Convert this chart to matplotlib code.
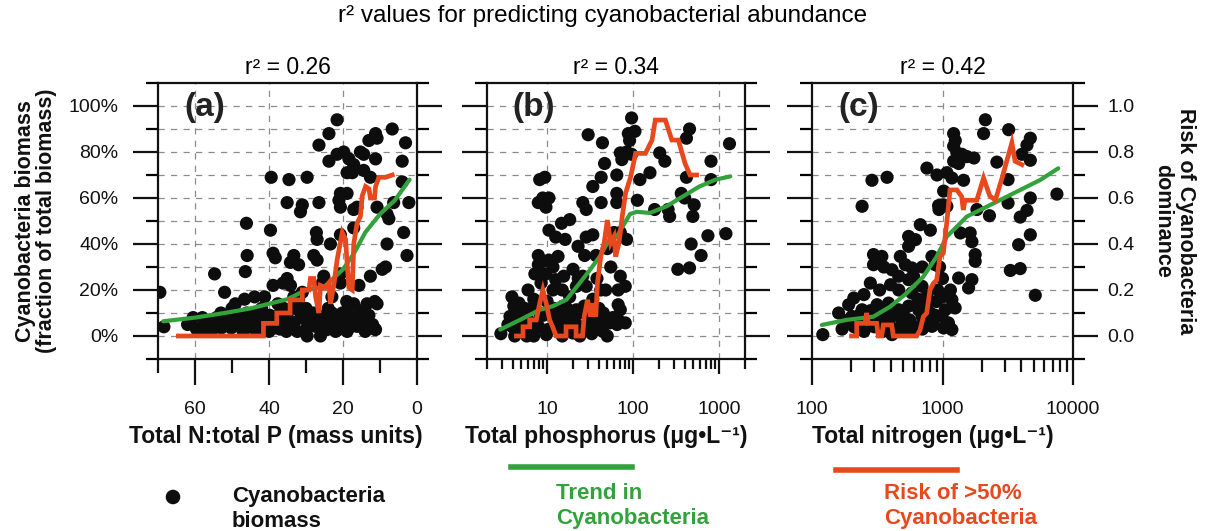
import numpy as np
import matplotlib
matplotlib.use('Agg')
import matplotlib.pyplot as plt
from matplotlib.ticker import FixedLocator, FixedFormatter, NullFormatter

# ---------------- data ----------------
title = "r\u00b2 values for predicting cyanobacterial abundance"
r2_labels = ["r\u00b2 = 0.26", "r\u00b2 = 0.34", "r\u00b2 = 0.42"]
panel_tags = ["(a)", "(b)", "(c)"]
xlabels = ["Total N:total P (mass units)",
           "Total phosphorus (\u03bcg\u2022L\u207b\u00b9)",
           "Total nitrogen (\u03bcg\u2022L\u207b\u00b9)"]

# panel (a): N:P ratio vs cyanobacteria fraction
a_pts = [
    (69.5,0.19),(68.4,0.04),(54.7,0.27),(46.1,0.49),(45.9,0.35),(46.4,0.28),(39.4,0.69),(39.6,0.46),
    (38.9,0.36),(38.3,0.34),(52,0.19),(49.1,0.14),(46.6,0.16),(43.9,0.17),(41.2,0.17),(38.9,0.22),
    (36.2,0.23),(37.6,0.14),(60.5,0.08),(58.3,0.035),(56.5,0.06),(54.2,0.08),(52.9,0.035),(51.5,0.06),
    (50.2,0.035),(48.4,0.09),(47.5,0.04),(45.7,0.08),(44.3,0.035),(43,0.07),(41.2,0.04),(39.8,0.09),
    (38.5,0.035),(36.7,0.06),(35.3,0.02),(55.6,0.02),(59.6,0.03),(57,0.05),(53,0.10),(49,0.07),
    (44,0.10),(42,0.12),(40,0.02),(37,0.10),(50,0.12),(47,0.02),
    (21.6,0.94),(23.8,0.88),(26.5,0.83),(23.8,0.76),(21.6,0.79),(19.8,0.80),(18.4,0.77),(17.1,0.745),
    (15.3,0.80),(14.4,0.79),(11.2,0.88),(10.8,0.86),(13,0.85),(6.7,0.90),(3.1,0.84),(11.2,0.77),
    (4,0.76),(18.9,0.71),(17.5,0.71),(14.4,0.72),(12.6,0.69),(34.6,0.68),(29.7,0.69),(4,0.67),
    (20.7,0.62),(18.9,0.62),(21.1,0.59),(20.7,0.56),(26.5,0.58),(31,0.57),(31.5,0.54),(35.1,0.58),
    (17.1,0.55),(16.2,0.56),(10.8,0.56),(6.3,0.58),(2.2,0.58),(8.1,0.53),(7.6,0.51),(27.2,0.45),
    (27,0.42),(23.4,0.40),(20.7,0.44),(17.1,0.47),(8.1,0.40),(3.6,0.45),(33.3,0.35),(34.2,0.32),
    (32,0.31),(27.9,0.35),(27,0.33),(2.7,0.35),(8.5,0.30),(9.4,0.29),(12.6,0.26),(25.2,0.26),
    (25.6,0.23),(20.7,0.27),(20.7,0.23),(15.7,0.22),(35.1,0.25),(34.2,0.22),(31,0.19),(32,0.16),
    (33.3,0.17),(13.5,0.14),(10.8,0.14),(17.1,0.14),(18.9,0.11),(11.4,0.15),(11.4,0.03),
    (35.1,0.085),(33.3,0.057),(31.5,0.078),(30.1,0.028),(28.8,0.064),(27.4,0.042),(26.1,0.085),
    (24.3,0.028),(22.9,0.085),(21.6,0.057),(20.2,0.10),(18.9,0.02),(17.5,0.064),(16.2,0.042),
    (14.8,0.078),(13.5,0.057),(11.2,0.028),(26.1,0.0),(29.7,0.0),(32.4,0.02),(30,0.12),(24,0.12),
    (22,0.02),(19,0.06),(16,0.09),(14,0.02),(28,0.1),(33,0.12),
    (62,0.05),(58,0.08),(56,0.02),(54,0.05),(52,0.07),(50,0.08),(48,0.05),(46,0.1),(45,0.05),
    (43,0.03),(41,0.08),(39,0.05),(37,0.03),(36,0.12),(34,0.05),(31,0.1),(29,0.05),(27,0.08),
    (25,0.05),(23,0.1),(21,0.03),(20,0.07),(18,0.04),(16,0.06),(15,0.11),(13,0.09),(12,0.05),
    (19,0.15),(23,0.17),
]
a_trend_x = [68.6, 60, 52, 45, 40, 35, 30, 25, 20, 17, 14, 10, 6, 2]
a_trend_y = [0.064, 0.08, 0.10, 0.12, 0.14, 0.16, 0.20, 0.215, 0.29, 0.36, 0.45, 0.53, 0.59, 0.68]
a_risk_x = [64.5, 41.5, 41.5, 37.9, 37.9, 34.3, 34.3, 31, 31, 29.2, 28.8, 27.9, 27.4, 26.5, 26.1, 24.7,
            23.8, 23.4, 22.5, 21.6, 20.2, 19.3, 18.9, 18.4, 17.5, 17.1, 16.2, 15.3, 14.8, 13.9, 13.0,
            12.6, 11.5, 11.2, 10.3, 8.5, 6.7]
a_risk_y = [0.0, 0.0, 0.055, 0.055, 0.10, 0.10, 0.157, 0.157, 0.20, 0.20, 0.25, 0.25, 0.17, 0.10, 0.22,
            0.21, 0.23, 0.14, 0.22, 0.33, 0.45, 0.42, 0.32, 0.21, 0.20, 0.40, 0.49, 0.52, 0.61, 0.65,
            0.64, 0.60, 0.60, 0.65, 0.69, 0.69, 0.70]

# panel (b): total phosphorus vs cyanobacteria fraction
b_pts = [
    (2.9,0.01),(3.9,0.17),(4.1,0.13),(3.7,0.085),(4.5,0.10),(4.9,0.057),(3.9,0.042),(5.3,0.085),(4.7,0.143),
    (30,0.875),(44,0.84),(8.2,0.68),(9.4,0.69),(7.9,0.58),(8.9,0.60),(10.5,0.60),(9.7,0.56),
    (18.3,0.506),(14.7,0.49),(10.5,0.46),(12.6,0.43),(16.2,0.42),(28.5,0.55),(26,0.58),(34,0.65),
    (42.5,0.69),(46.6,0.75),(42.5,0.58),(7.9,0.35),(9,0.325),(7.9,0.31),(10.5,0.33),(13.4,0.346),
    (11.7,0.30),(9.7,0.27),(8.5,0.23),(12.6,0.245),(15.6,0.26),(11.7,0.20),(22.9,0.39),(28.5,0.43),
    (34,0.44),(37,0.35),(27.3,0.35),(20,0.29),(26,0.26),(21.9,0.216),(18.3,0.17),(28.5,0.216),
    (34,0.16),(6.3,0.028),(7.5,0.057),(9.8,0.006),(11.7,0.085),(13.4,0.028),(16.8,0.071),(20,0.013),
    (23.9,0.10),(28.5,0.042),(37,0.085),(44.4,0.02),(53,0.057),(5.8,0.0),(8.2,0.10),(15.3,0.13),
    (21.9,0.114),(34,0.114),(6.8,0.12),(10,0.15),(14,0.1),(18,0.04),(26,0.03),(31,0.06),(40,0.12),
    (48,0.2),(55,0.3),(60,0.45),(50,0.38),
    (3.5,0.05),(4.2,0.0),(5,0.03),(5.5,0.12),(6,0.07),(7,0.0),(7,0.16),(8,0.04),(9,0.09),(10.5,0.03),
    (12,0.12),(13,0.06),(15,0.0),(17,0.12),(19,0.08),(22,0.05),(24,0.0),(27,0.13),(30,0.09),(33,0.01),
    (36,0.04),(40,0.07),(45,0.10),(50,0.0),(58,0.08),(65,0.05),(42,0.2),(38,0.25),(23,0.25),(15,0.2),
    (6,0.2),(7.2,0.27),
    (96,0.948),(88,0.88),(105,0.89),(91,0.85),(71,0.796),(84,0.80),(96,0.79),(74,0.767),(64.6,0.70),
    (64.6,0.62),(64.6,0.58),(120,0.68),(112,0.59),(157,0.71),(204,0.796),(234,0.76),(453,0.90),
    (417,0.86),(417,0.69),(805,0.76),(1320,0.836),(805,0.68),(363,0.62),(398,0.60),(513,0.57),
    (495,0.52),(178,0.55),(255,0.55),(266,0.52),(84,0.42),(71,0.45),(473,0.40),(741,0.436),
    (1200,0.445),(617,0.35),(331,0.29),(453,0.296),(71,0.26),(81,0.216),(67,0.20),(67,0.136),
    (71,0.114),(67,0.07),(81,0.057),
]
b_trend_x = [2.85, 4.9, 8.2, 11.7, 16.8, 23.9, 31.6, 41, 53, 64.6, 92, 110, 157, 245, 380, 589, 912, 1350]
b_trend_y = [0.028, 0.071, 0.114, 0.13, 0.158, 0.23, 0.288, 0.346, 0.42, 0.433, 0.53, 0.54, 0.535,
             0.564, 0.607, 0.65, 0.68, 0.694]
b_risk_x = [4.4, 5.25, 5.25, 6.27, 6.27, 7.48, 8.2, 8.93, 9.76, 10.7, 11.6, 12.7, 16.6, 16.6, 21.7, 21.7,
            25.8, 27, 29.5, 32.2, 33.7, 36.8, 38.5, 42, 46, 50.2, 54.8, 59.9, 62.7, 68.4, 74.7, 81.6,
            93.3, 107, 139, 166, 181, 237, 282, 336, 402, 459, 547]
b_risk_y = [0.0, 0.0, 0.04, 0.04, 0.07, 0.07, 0.142, 0.20, 0.142, 0.07, 0.04, 0.0, 0.0, 0.04, 0.04, 0.0,
            0.0, 0.084, 0.157, 0.084, 0.142, 0.084, 0.229, 0.345, 0.403, 0.504, 0.403, 0.432, 0.345,
            0.403, 0.519, 0.62, 0.69, 0.794, 0.794, 0.852, 0.939, 0.939, 0.852, 0.852, 0.75, 0.70, 0.70]

# panel (c): total nitrogen vs cyanobacteria fraction
c_pts = [
    (121,0.006),(288,0.677),(376,0.69),(242,0.564),(759,0.73),(908,0.70),(933,0.567),(940,0.55),
    (676,0.484),(807,0.46),(550,0.433),(620,0.419),(550,0.39),(296,0.354),(343,0.346),(296,0.31),
    (355,0.30),(410,0.288),(475,0.346),(519,0.31),(583,0.296),(462,0.26),(550,0.245),(830,0.346),
    (880,0.31),(400,0.223),(462,0.20),(583,0.187),(697,0.216),(760,0.172),(209,0.165),(191,0.136),
    (242,0.114),(315,0.136),(386,0.143),(462,0.114),(550,0.13),(657,0.114),(807,0.10),(180,0.057),
    (228,0.028),(272,0.085),(334,0.035),(410,0.006),(490,0.057),(583,0.02),(697,0.085),(830,0.042),
    (354,0.078),(202,0.085),(950,0.30),(1000,0.25),(900,0.15),(850,0.05),(1000,0.17),
    (160,0.1),(170,0.03),(190,0.07),(210,0.04),(230,0.09),(250,0.02),(260,0.06),(280,0.11),(300,0.04),
    (320,0.08),(350,0.02),(370,0.11),(390,0.05),(430,0.09),(450,0.03),(500,0.1),(530,0.02),(560,0.07),
    (620,0.04),(650,0.16),(700,0.03),(750,0.13),(780,0.06),(880,0.09),(920,0.2),(250,0.18),(280,0.23),
    (330,0.2),(600,0.26),(700,0.3),
    (1217,0.88),(1253,0.85),(1217,0.825),(1290,0.796),(1410,0.79),(1540,0.78),(1740,0.774),
    (1217,0.76),(1330,0.75),(2130,0.94),(2065,0.88),(3215,0.897),(4710,0.86),(4440,0.83),(4060,0.79),
    (4710,0.764),(2610,0.756),(1080,0.71),(1180,0.687),(1450,0.677),(3180,0.68),(7530,0.617),
    (4710,0.60),(3180,0.578),(1020,0.63),(1020,0.57),(1080,0.564),(1837,0.55),(2290,0.523),
    (4440,0.546),(3940,0.517),(1630,0.448),(1680,0.41),(1370,0.448),(3830,0.397),(4710,0.44),
    (1780,0.354),(1780,0.325),(3310,0.285),(3940,0.293),(1330,0.252),(1680,0.245),(1585,0.209),
    (1150,0.2),(5140,0.177),(1180,0.158),(1250,0.122),(1050,0.114),(990,0.085),(1110,0.057),
    (1180,0.028),(1020,0.035),
]
c_trend_x = [119, 184, 295, 396, 532, 713, 902, 1077, 1285, 1532, 2180, 3490, 5590, 7710]
c_trend_y = [0.048, 0.07, 0.084, 0.127, 0.186, 0.258, 0.345, 0.432, 0.475, 0.519, 0.562, 0.62, 0.678, 0.729]
c_risk_x = [201, 220, 220, 255, 262, 270, 313, 322, 342, 352, 408, 420, 634, 672, 713, 757, 802, 851,
            902, 957, 1014, 1077, 1141, 1290, 1403, 1443, 1487, 1620, 1830, 2065, 2300, 2540, 2860,
            3400, 3600, 4063]
c_risk_y = [0.0, 0.0, 0.055, 0.055, 0.10, 0.055, 0.055, 0.0, 0.0, 0.048, 0.048, 0.0, 0.0, 0.025, 0.084,
            0.10, 0.20, 0.229, 0.243, 0.345, 0.36, 0.49, 0.635, 0.635, 0.606, 0.548, 0.59, 0.59, 0.59,
            0.687, 0.61, 0.59, 0.687, 0.84, 0.76, 0.745]

y_major = [0.0, 0.2, 0.4, 0.6, 0.8, 1.0]
y_minor = [-0.1, 0.1, 0.3, 0.5, 0.7, 0.9, 1.1]
y_grid = [0.0, 0.1, 0.2, 0.3, 0.4, 0.5, 0.6, 0.7, 0.8, 0.9, 1.0]
pct_labels = ["0%", "20%", "40%", "60%", "80%", "100%"]
risk_labels = ["0.0", "0.2", "0.4", "0.6", "0.8", "1.0"]

a_xmajor = [60, 40, 20, 0]
a_xminor = [70, 50, 30, 10]
a_xgrid = [60, 40, 20]
b_xmajor = [10, 100, 1000]
b_xminor = [2, 3, 4, 5, 6, 7, 8, 9, 20, 30, 40, 50, 60, 70, 80, 90,
            200, 300, 400, 500, 600, 700, 800, 900, 2000]
b_xgrid = [10, 100, 1000]
c_xmajor = [100, 1000, 10000]
c_xminor = [200, 300, 400, 500, 600, 700, 800, 900,
            2000, 3000, 4000, 5000, 6000, 7000, 8000, 9000]
c_xgrid = [1000]

legend_labels = ["Cyanobacteria\nbiomass", "Trend in\nCyanobacteria", "Risk of >50%\nCyanobacteria"]

# ---------------- style ----------------
FONT = ['Liberation Sans', 'DejaVu Sans']
plt.rcParams['font.family'] = FONT
GREEN = '#33a23c'
RED = '#e8481e'
GRIDC = '#8c8c8c'

W, H = 1206, 531
fig = plt.figure(figsize=(W / 100, H / 100), dpi=100)

def rect(l, r, t, b):
    return [l / W, 1 - b / H, (r - l) / W, (b - t) / H]

ax_a = fig.add_axes(rect(158, 417, 83, 359))
ax_b = fig.add_axes(rect(487, 745, 83, 359))
ax_c = fig.add_axes(rect(812, 1073, 83, 359))

def common(ax, xgrid):
    ax.set_ylim(-0.1, 1.1)
    for s in ax.spines.values():
        s.set_linewidth(1.6)
        s.set_color('#111111')
    ax.yaxis.set_major_locator(FixedLocator(y_major))
    ax.yaxis.set_minor_locator(FixedLocator(y_minor))
    ax.yaxis.set_minor_formatter(NullFormatter())
    ax.tick_params(axis='y', which='major', direction='out', length=18, width=1.6,
                   left=True, right=True, labelleft=False, labelright=False,
                   labelsize=14, colors='#111111')
    ax.tick_params(axis='y', which='minor', direction='out', length=8.6, width=1.6,
                   left=True, right=True)
    for g in y_grid:
        ax.axhline(g, color=GRIDC, lw=0.9, ls=(0, (5, 5)), zorder=0)
    for g in xgrid:
        ax.axvline(g, color=GRIDC, lw=0.9, ls=(0, (5, 5)), zorder=0)
    ax.tick_params(axis='x', which='both', top=False, bottom=True, direction='out',
                   width=1.6, labelsize=14, colors='#111111')

def draw(ax, pts, tx, ty, rx, ry):
    px = [p[0] for p in pts]
    py = [p[1] for p in pts]
    ax.scatter(px, py, s=90, color='#0d0d0d', edgecolors='none', zorder=2)
    ax.plot(tx, ty, color=GREEN, lw=3.0, zorder=3, solid_capstyle='round')
    ax.plot(rx, ry, color=RED, lw=3.4, zorder=4, solid_joinstyle='miter')

# panel a
common(ax_a, a_xgrid)
ax_a.set_xlim(70, 0)
ax_a.xaxis.set_major_locator(FixedLocator(a_xmajor))
ax_a.xaxis.set_minor_locator(FixedLocator(a_xminor))
ax_a.xaxis.set_major_formatter(FixedFormatter([str(v) for v in a_xmajor]))
ax_a.xaxis.set_minor_formatter(NullFormatter())
ax_a.tick_params(axis='x', which='major', length=18.5, pad=11.5)
ax_a.tick_params(axis='x', which='minor', length=10)
ax_a.yaxis.set_major_formatter(FixedFormatter(pct_labels))
ax_a.tick_params(axis='y', which='major', labelleft=True, pad=10.5)
draw(ax_a, a_pts, a_trend_x, a_trend_y, a_risk_x, a_risk_y)

# panel b
common(ax_b, b_xgrid)
ax_b.set_xscale('log')
ax_b.set_xlim(2, 2000)
ax_b.xaxis.set_major_locator(FixedLocator(b_xmajor))
ax_b.xaxis.set_minor_locator(FixedLocator(b_xminor))
ax_b.xaxis.set_major_formatter(FixedFormatter([str(v) for v in b_xmajor]))
ax_b.xaxis.set_minor_formatter(NullFormatter())
ax_b.tick_params(axis='x', which='major', length=11, pad=19)
ax_b.tick_params(axis='x', which='minor', length=7.5)
draw(ax_b, b_pts, b_trend_x, b_trend_y, b_risk_x, b_risk_y)

# panel c
common(ax_c, c_xgrid)
ax_c.set_xscale('log')
ax_c.set_xlim(100, 10000)
ax_c.xaxis.set_major_locator(FixedLocator(c_xmajor))
ax_c.xaxis.set_minor_locator(FixedLocator(c_xminor))
ax_c.xaxis.set_major_formatter(FixedFormatter([str(v) for v in c_xmajor]))
ax_c.xaxis.set_minor_formatter(NullFormatter())
ax_c.tick_params(axis='x', which='major', length=18.5, pad=11.5)
ax_c.tick_params(axis='x', which='minor', length=9.5)
ax_c.yaxis.set_major_formatter(FixedFormatter(risk_labels))
ax_c.tick_params(axis='y', which='major', labelright=True, pad=7)
draw(ax_c, c_pts, c_trend_x, c_trend_y, c_risk_x, c_risk_y)

for ax, tag, r2 in zip([ax_a, ax_b, ax_c], panel_tags, r2_labels):
    ax.text(0.18, 0.91, tag, transform=ax.transAxes, ha='center', va='center',
            fontsize=24, fontweight='bold', family=FONT, color='#222222', zorder=5)
    ax.text(0.5, 1 + 16 / 276, r2, transform=ax.transAxes, ha='center', va='center',
            fontsize=16.5, family=FONT, color='black')

# titles and axis labels
fig.text(0.5, 1 - 16 / H, title, ha='center', va='center', fontsize=17.5, family=FONT)
for xc, lab in zip([276, 606, 933], xlabels):
    fig.text(xc / W, 1 - 436 / H, lab, ha='center', va='center', fontsize=16.5,
             fontweight='bold', family=FONT, color='#111111')
fig.text(36 / W, 1 - 221 / H, "Cyanobacteria biomass\n(fraction of total biomass)",
         rotation=90, ha='center', va='center', fontsize=15.5, fontweight='bold',
         family=FONT, linespacing=1.05, color='#111111')
fig.text(1174 / W, 1 - 221 / H, "Risk of Cyanobacteria\ndominance",
         rotation=270, ha='center', va='center', fontsize=15.5, fontweight='bold',
         family=FONT, linespacing=1.15, color='#111111')

# legend
leg = fig.add_axes([0, 0, 1, 1], facecolor='none')
leg.set_xlim(0, W)
leg.set_ylim(H, 0)
leg.axis('off')
leg.scatter([173], [497], s=110, color='#0d0d0d', edgecolors='none')
leg.text(232, 509, legend_labels[0], ha='left', va='center', fontsize=16,
         fontweight='bold', family=FONT, color='#111111', linespacing=1.25)
leg.plot([511, 632], [467, 467], color=GREEN, lw=4)
leg.text(556, 506, legend_labels[1], ha='left', va='center', fontsize=16,
         fontweight='bold', family=FONT, color=GREEN, linespacing=1.25)
leg.plot([836, 957], [470, 470], color=RED, lw=4)
leg.text(884, 506, legend_labels[2], ha='left', va='center', fontsize=16,
         fontweight='bold', family=FONT, color=RED, linespacing=1.25)

fig.savefig('out.png', dpi=100)
